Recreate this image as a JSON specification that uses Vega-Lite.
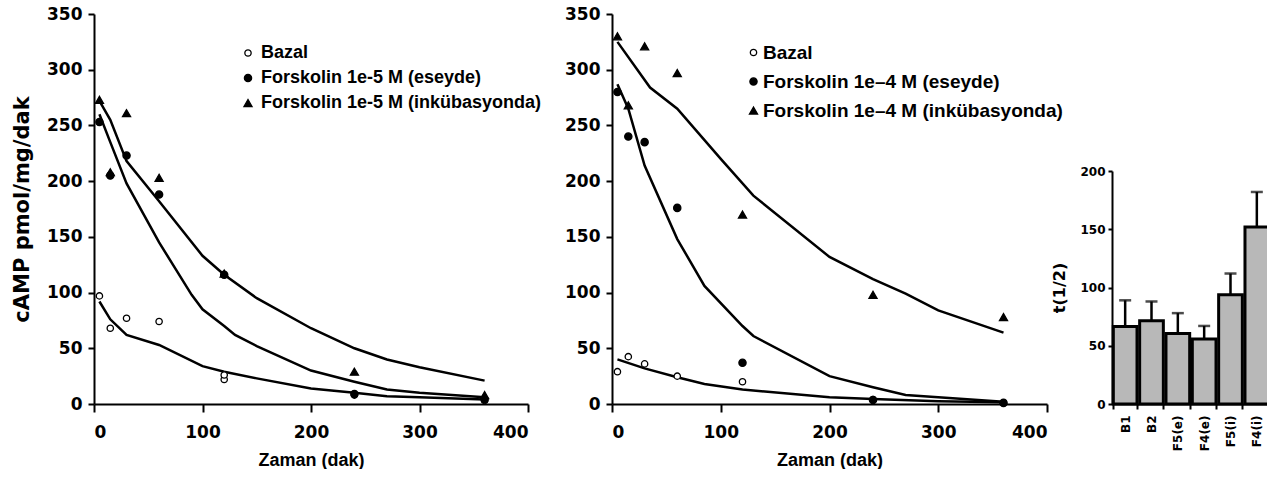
{
  "$schema": "https://vega.github.io/schema/vega-lite/v6.json",
  "background": "white",
  "padding": {"left": 11, "top": 5, "right": 0, "bottom": 0},
  "autosize": {"type": "pad"},
  "config": {
    "view": {"stroke": null},
    "axis": {"grid": false, "domainColor": "black", "domainWidth": 2, "tickColor": "black", "tickWidth": 2, "labelColor": "black", "titleColor": "black", "labelFont": "DejaVu Sans", "labelFontWeight": "bold", "titleFont": "Liberation Sans", "titleFontWeight": "bold"}
  },
  "datasets": {
    "pointsL": [
      {"s": "Bazal", "t": 5, "v": 97}, {"s": "Bazal", "t": 15, "v": 68}, {"s": "Bazal", "t": 30, "v": 77}, {"s": "Bazal", "t": 60, "v": 74}, {"s": "Bazal", "t": 120, "v": 22}, {"s": "Bazal", "t": 120, "v": 26}, {"s": "Bazal", "t": 240, "v": 8}, {"s": "Bazal", "t": 360, "v": 3},
      {"s": "Forskolin 1e-5 M (eseyde)", "t": 5, "v": 253}, {"s": "Forskolin 1e-5 M (eseyde)", "t": 15, "v": 205}, {"s": "Forskolin 1e-5 M (eseyde)", "t": 30, "v": 223}, {"s": "Forskolin 1e-5 M (eseyde)", "t": 60, "v": 188}, {"s": "Forskolin 1e-5 M (eseyde)", "t": 120, "v": 116}, {"s": "Forskolin 1e-5 M (eseyde)", "t": 240, "v": 9}, {"s": "Forskolin 1e-5 M (eseyde)", "t": 360, "v": 4},
      {"s": "Forskolin 1e-5 M (inkübasyonda)", "t": 5, "v": 273}, {"s": "Forskolin 1e-5 M (inkübasyonda)", "t": 15, "v": 208}, {"s": "Forskolin 1e-5 M (inkübasyonda)", "t": 30, "v": 261}, {"s": "Forskolin 1e-5 M (inkübasyonda)", "t": 60, "v": 203}, {"s": "Forskolin 1e-5 M (inkübasyonda)", "t": 120, "v": 117}, {"s": "Forskolin 1e-5 M (inkübasyonda)", "t": 240, "v": 29}, {"s": "Forskolin 1e-5 M (inkübasyonda)", "t": 360, "v": 8}
    ],
    "curvesL": [
      {"s": "a", "t": 5, "v": 92}, {"s": "a", "t": 15, "v": 76}, {"s": "a", "t": 30, "v": 62}, {"s": "a", "t": 60, "v": 53}, {"s": "a", "t": 100, "v": 34}, {"s": "a", "t": 120, "v": 29}, {"s": "a", "t": 150, "v": 23}, {"s": "a", "t": 200, "v": 14}, {"s": "a", "t": 240, "v": 10}, {"s": "a", "t": 270, "v": 7}, {"s": "a", "t": 300, "v": 6}, {"s": "a", "t": 360, "v": 4},
      {"s": "b", "t": 5, "v": 260}, {"s": "b", "t": 15, "v": 235}, {"s": "b", "t": 30, "v": 198}, {"s": "b", "t": 60, "v": 145}, {"s": "b", "t": 90, "v": 98}, {"s": "b", "t": 100, "v": 85}, {"s": "b", "t": 120, "v": 70}, {"s": "b", "t": 130, "v": 62}, {"s": "b", "t": 150, "v": 52}, {"s": "b", "t": 200, "v": 30}, {"s": "b", "t": 240, "v": 20}, {"s": "b", "t": 270, "v": 13}, {"s": "b", "t": 300, "v": 10}, {"s": "b", "t": 360, "v": 6},
      {"s": "c", "t": 5, "v": 272}, {"s": "c", "t": 15, "v": 255}, {"s": "c", "t": 30, "v": 218}, {"s": "c", "t": 60, "v": 182}, {"s": "c", "t": 100, "v": 133}, {"s": "c", "t": 120, "v": 116}, {"s": "c", "t": 150, "v": 95}, {"s": "c", "t": 200, "v": 68}, {"s": "c", "t": 240, "v": 50}, {"s": "c", "t": 270, "v": 40}, {"s": "c", "t": 300, "v": 33}, {"s": "c", "t": 360, "v": 21}
    ],
    "pointsR": [
      {"s": "Bazal", "t": 5, "v": 29}, {"s": "Bazal", "t": 15, "v": 42.5}, {"s": "Bazal", "t": 30, "v": 36}, {"s": "Bazal", "t": 60, "v": 25}, {"s": "Bazal", "t": 120, "v": 20}, {"s": "Bazal", "t": 240, "v": 4}, {"s": "Bazal", "t": 360, "v": 1},
      {"s": "Forskolin 1e–4 M (eseyde)", "t": 5, "v": 280}, {"s": "Forskolin 1e–4 M (eseyde)", "t": 15, "v": 240}, {"s": "Forskolin 1e–4 M (eseyde)", "t": 30, "v": 235}, {"s": "Forskolin 1e–4 M (eseyde)", "t": 60, "v": 176}, {"s": "Forskolin 1e–4 M (eseyde)", "t": 120, "v": 37}, {"s": "Forskolin 1e–4 M (eseyde)", "t": 240, "v": 3.5}, {"s": "Forskolin 1e–4 M (eseyde)", "t": 360, "v": 1},
      {"s": "Forskolin 1e–4 M (inkübasyonda)", "t": 5, "v": 330}, {"s": "Forskolin 1e–4 M (inkübasyonda)", "t": 15, "v": 268}, {"s": "Forskolin 1e–4 M (inkübasyonda)", "t": 30, "v": 321}, {"s": "Forskolin 1e–4 M (inkübasyonda)", "t": 60, "v": 297}, {"s": "Forskolin 1e–4 M (inkübasyonda)", "t": 120, "v": 170}, {"s": "Forskolin 1e–4 M (inkübasyonda)", "t": 240, "v": 98}, {"s": "Forskolin 1e–4 M (inkübasyonda)", "t": 360, "v": 78}
    ],
    "curvesR": [
      {"s": "a", "t": 5, "v": 40}, {"s": "a", "t": 30, "v": 32}, {"s": "a", "t": 60, "v": 24}, {"s": "a", "t": 85, "v": 18}, {"s": "a", "t": 120, "v": 13}, {"s": "a", "t": 200, "v": 6}, {"s": "a", "t": 240, "v": 4.5}, {"s": "a", "t": 300, "v": 2.5}, {"s": "a", "t": 360, "v": 1.5},
      {"s": "b", "t": 5, "v": 287}, {"s": "b", "t": 15, "v": 265}, {"s": "b", "t": 30, "v": 214}, {"s": "b", "t": 60, "v": 148}, {"s": "b", "t": 85, "v": 106}, {"s": "b", "t": 120, "v": 70}, {"s": "b", "t": 130, "v": 61}, {"s": "b", "t": 200, "v": 25}, {"s": "b", "t": 240, "v": 15}, {"s": "b", "t": 270, "v": 8}, {"s": "b", "t": 360, "v": 2},
      {"s": "c", "t": 5, "v": 325}, {"s": "c", "t": 35, "v": 284}, {"s": "c", "t": 60, "v": 265}, {"s": "c", "t": 100, "v": 220}, {"s": "c", "t": 130, "v": 187}, {"s": "c", "t": 200, "v": 132}, {"s": "c", "t": 240, "v": 112}, {"s": "c", "t": 270, "v": 99}, {"s": "c", "t": 300, "v": 84}, {"s": "c", "t": 360, "v": 64}
    ],
    "bars": [
      {"g": "B1", "m": 66.5, "u": 89},
      {"g": "B2", "m": 71.5, "u": 88},
      {"g": "F5(e)", "m": 60.5, "u": 78},
      {"g": "F4(e)", "m": 55.8, "u": 67},
      {"g": "F5(i)", "m": 93.7, "u": 112},
      {"g": "F4(i)", "m": 152, "u": 182}
    ]
  },
  "hconcat": [
    {
      "width": 453, "height": 390,
      "layer": [
        {
          "data": {"name": "curvesL"},
          "mark": {"type": "line", "color": "black", "strokeWidth": 2.5},
          "encoding": {
            "x": {"field": "t", "type": "quantitative", "scale": {"domain": [0, 400], "range": [0, 434], "nice": false}, "axis": {"title": "Zaman (dak)", "values": [0, 100, 200, 300, 400], "labelFontSize": 17, "titleFontSize": 18, "tickSize": 8, "labelPadding": 12, "titlePadding": 11}},
            "y": {"field": "v", "type": "quantitative", "scale": {"domain": [0, 350], "nice": false}, "axis": {"title": "cAMP pmol/mg/dak", "titleFont": "DejaVu Sans", "titleFontSize": 21, "values": [0, 50, 100, 150, 200, 250, 300, 350], "labelFontSize": 17, "tickSize": 6, "labelPadding": 6, "titlePadding": 14}},
            "detail": {"field": "s", "type": "nominal"}
          }
        },
        {
          "data": {"name": "pointsL"},
          "mark": {"type": "point", "filled": true, "strokeWidth": 1.3, "opacity": 1},
          "encoding": {
            "x": {"field": "t", "type": "quantitative"},
            "y": {"field": "v", "type": "quantitative"},
            "shape": {"field": "s", "type": "nominal", "scale": {"domain": ["Bazal", "Forskolin 1e-5 M (eseyde)", "Forskolin 1e-5 M (inkübasyonda)"], "range": ["circle", "circle", "triangle-up"]}, "legend": {"title": null, "orient": "none", "legendX": 145, "legendY": 30, "labelFont": "Liberation Sans", "labelFontSize": 18, "labelFontWeight": "bold", "labelColor": "black", "labelOffset": 4, "rowPadding": 7, "labelLimit": 500, "symbolStrokeWidth": 1.3, "padding": 0}},
            "fill": {"field": "s", "type": "nominal", "scale": {"domain": ["Bazal", "Forskolin 1e-5 M (eseyde)", "Forskolin 1e-5 M (inkübasyonda)"], "range": ["white", "black", "black"]}, "legend": {"title": null, "orient": "none", "legendX": 145, "legendY": 30, "labelFont": "Liberation Sans", "labelFontSize": 18, "labelFontWeight": "bold", "labelColor": "black", "labelOffset": 4, "rowPadding": 7, "labelLimit": 500, "symbolStrokeWidth": 1.3, "padding": 0}},
            "stroke": {"field": "s", "type": "nominal", "scale": {"domain": ["Bazal", "Forskolin 1e-5 M (eseyde)", "Forskolin 1e-5 M (inkübasyonda)"], "range": ["black", "black", "black"]}, "legend": {"title": null, "orient": "none", "legendX": 145, "legendY": 30, "labelFont": "Liberation Sans", "labelFontSize": 18, "labelFontWeight": "bold", "labelColor": "black", "labelOffset": 4, "rowPadding": 7, "labelLimit": 500, "symbolStrokeWidth": 1.3, "padding": 0}},
            "size": {"field": "s", "type": "nominal", "scale": {"domain": ["Bazal", "Forskolin 1e-5 M (eseyde)", "Forskolin 1e-5 M (inkübasyonda)"], "range": [40, 65, 140]}, "legend": {"title": null, "orient": "none", "legendX": 145, "legendY": 30, "labelFont": "Liberation Sans", "labelFontSize": 18, "labelFontWeight": "bold", "labelColor": "black", "labelOffset": 4, "rowPadding": 7, "labelLimit": 500, "symbolStrokeWidth": 1.3, "padding": 0}}
          }
        }
      ]
    },
    {
      "width": 435, "height": 390,
      "layer": [
        {
          "data": {"name": "curvesR"},
          "mark": {"type": "line", "color": "black", "strokeWidth": 2.5},
          "encoding": {
            "x": {"field": "t", "type": "quantitative", "scale": {"domain": [0, 400], "nice": false}, "axis": {"title": "Zaman (dak)", "values": [0, 100, 200, 300, 400], "labelFontSize": 17, "titleFontSize": 18, "tickSize": 8, "labelPadding": 12, "titlePadding": 11}},
            "y": {"field": "v", "type": "quantitative", "scale": {"domain": [0, 350], "nice": false}, "axis": {"title": null, "values": [0, 50, 100, 150, 200, 250, 300, 350], "labelFontSize": 17, "tickSize": 6, "labelPadding": 6}},
            "detail": {"field": "s", "type": "nominal"}
          }
        },
        {
          "data": {"name": "pointsR"},
          "mark": {"type": "point", "filled": true, "strokeWidth": 1.3, "opacity": 1},
          "encoding": {
            "x": {"field": "t", "type": "quantitative"},
            "y": {"field": "v", "type": "quantitative"},
            "shape": {"field": "s", "type": "nominal", "scale": {"domain": ["Bazal", "Forskolin 1e–4 M (eseyde)", "Forskolin 1e–4 M (inkübasyonda)"], "range": ["circle", "circle", "triangle-up"]}, "legend": {"title": null, "orient": "none", "legendX": 132, "legendY": 29, "labelFont": "Liberation Sans", "labelFontSize": 19, "labelFontWeight": "bold", "labelColor": "black", "labelOffset": 0, "rowPadding": 9, "labelLimit": 500, "symbolStrokeWidth": 1.3, "padding": 0}},
            "fill": {"field": "s", "type": "nominal", "scale": {"domain": ["Bazal", "Forskolin 1e–4 M (eseyde)", "Forskolin 1e–4 M (inkübasyonda)"], "range": ["white", "black", "black"]}, "legend": {"title": null, "orient": "none", "legendX": 132, "legendY": 29, "labelFont": "Liberation Sans", "labelFontSize": 19, "labelFontWeight": "bold", "labelColor": "black", "labelOffset": 0, "rowPadding": 9, "labelLimit": 500, "symbolStrokeWidth": 1.3, "padding": 0}},
            "stroke": {"field": "s", "type": "nominal", "scale": {"domain": ["Bazal", "Forskolin 1e–4 M (eseyde)", "Forskolin 1e–4 M (inkübasyonda)"], "range": ["black", "black", "black"]}, "legend": {"title": null, "orient": "none", "legendX": 132, "legendY": 29, "labelFont": "Liberation Sans", "labelFontSize": 19, "labelFontWeight": "bold", "labelColor": "black", "labelOffset": 0, "rowPadding": 9, "labelLimit": 500, "symbolStrokeWidth": 1.3, "padding": 0}},
            "size": {"field": "s", "type": "nominal", "scale": {"domain": ["Bazal", "Forskolin 1e–4 M (eseyde)", "Forskolin 1e–4 M (inkübasyonda)"], "range": [40, 65, 140]}, "legend": {"title": null, "orient": "none", "legendX": 132, "legendY": 29, "labelFont": "Liberation Sans", "labelFontSize": 19, "labelFontWeight": "bold", "labelColor": "black", "labelOffset": 0, "rowPadding": 9, "labelLimit": 500, "symbolStrokeWidth": 1.3, "padding": 0}}
          }
        }
      ]
    },
    {
      "width": 158, "height": 390,
      "data": {"name": "bars"},
      "layer": [
        {
          "mark": {"type": "bar", "fill": "#b8b8b8", "stroke": "black", "strokeWidth": 3},
          "encoding": {
            "x": {"field": "g", "type": "nominal", "sort": null, "scale": {"paddingInner": 0.1, "paddingOuter": 0.05}, "axis": {"title": null, "labelAngle": 270, "labelFontSize": 12, "tickSize": 5, "tickBand": "extent", "labelPadding": 6}},
            "y": {"field": "m", "type": "quantitative", "scale": {"domain": [0, 200], "range": [390, 157], "nice": false}, "axis": {"title": "t(1/2)", "titleFont": "DejaVu Sans", "titleFontSize": 16, "values": [0, 50, 100, 150, 200], "labelFontSize": 12, "tickSize": 4, "labelPadding": 3, "titlePadding": 12}}
          }
        },
        {
          "mark": {"type": "rule", "color": "black", "strokeWidth": 2.5},
          "encoding": {
            "x": {"field": "g", "type": "nominal", "sort": null},
            "y": {"field": "m", "type": "quantitative"},
            "y2": {"field": "u"}
          }
        },
        {
          "mark": {"type": "tick", "color": "black", "thickness": 2.5, "size": 12},
          "encoding": {
            "x": {"field": "g", "type": "nominal", "sort": null},
            "y": {"field": "u", "type": "quantitative"}
          }
        }
      ]
    }
  ],
  "spacing": 65,
  "bounds": "flush",
  "resolve": {"scale": {"x": "independent", "y": "independent", "shape": "independent", "fill": "independent", "stroke": "independent", "size": "independent"}, "legend": {"shape": "independent", "fill": "independent", "stroke": "independent", "size": "independent"}}
}
